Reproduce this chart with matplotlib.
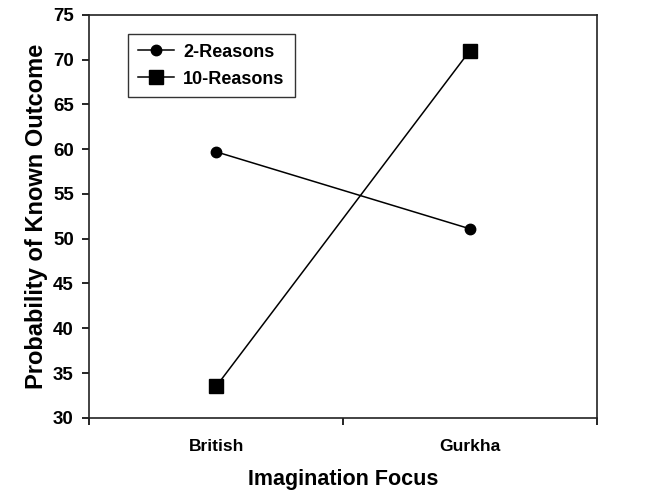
import numpy as np
import matplotlib.pyplot as plt

plt.rcParams["font.family"] = ["Liberation Sans", "DejaVu Sans"]
plt.rcParams["font.weight"] = "bold"

categories = ["British", "Gurkha"]
two_reasons = [59.7, 51.1]
ten_reasons = [33.5, 71.0]

fig = plt.figure(figsize=(6.46, 4.91), dpi=100)
ax = fig.add_axes([0.138, 0.149, 0.786, 0.821])

x = np.arange(len(categories)) + 0.5
ax.plot(x, two_reasons, color="black", lw=1.1, marker="o", ms=7.5, label="2-Reasons")
ax.plot(x, ten_reasons, color="black", lw=1.1, marker="s", ms=9.5, label="10-Reasons")

ax.set_xlim(0, 2)
ax.set_ylim(30, 75)
ax.set_yticks(np.arange(30, 76, 5))

# category boundaries get the ticks, labels sit between them
ax.set_xticks([0, 1, 2])
ax.set_xticklabels([])
ax.set_xticks(x, minor=True)
ax.set_xticklabels(categories, minor=True)
ax.tick_params(axis="x", which="minor", length=0, pad=15, labelsize=12.5)
ax.tick_params(axis="x", which="major", direction="out", length=5, width=1.2)
ax.tick_params(axis="y", direction="out", length=5, width=1.2, labelsize=13.5, pad=6)
for s in ax.spines.values():
    s.set_linewidth(1.2)
    s.set_color("#222222")

ax.set_xlabel("Imagination Focus", fontsize=15.5, fontweight="bold", labelpad=11)
ax.set_ylabel("Probability of Known Outcome", fontsize=17, fontweight="bold", labelpad=4)

leg = ax.legend(loc="upper left", bbox_to_anchor=(0.077, 0.953), frameon=True,
                fancybox=False, edgecolor="black", fontsize=13, handlelength=2.0,
                borderpad=0.55, labelspacing=0.55, handletextpad=0.5, borderaxespad=0)
leg.get_frame().set_linewidth(1.0)

fig.savefig("out.png", dpi=100)
